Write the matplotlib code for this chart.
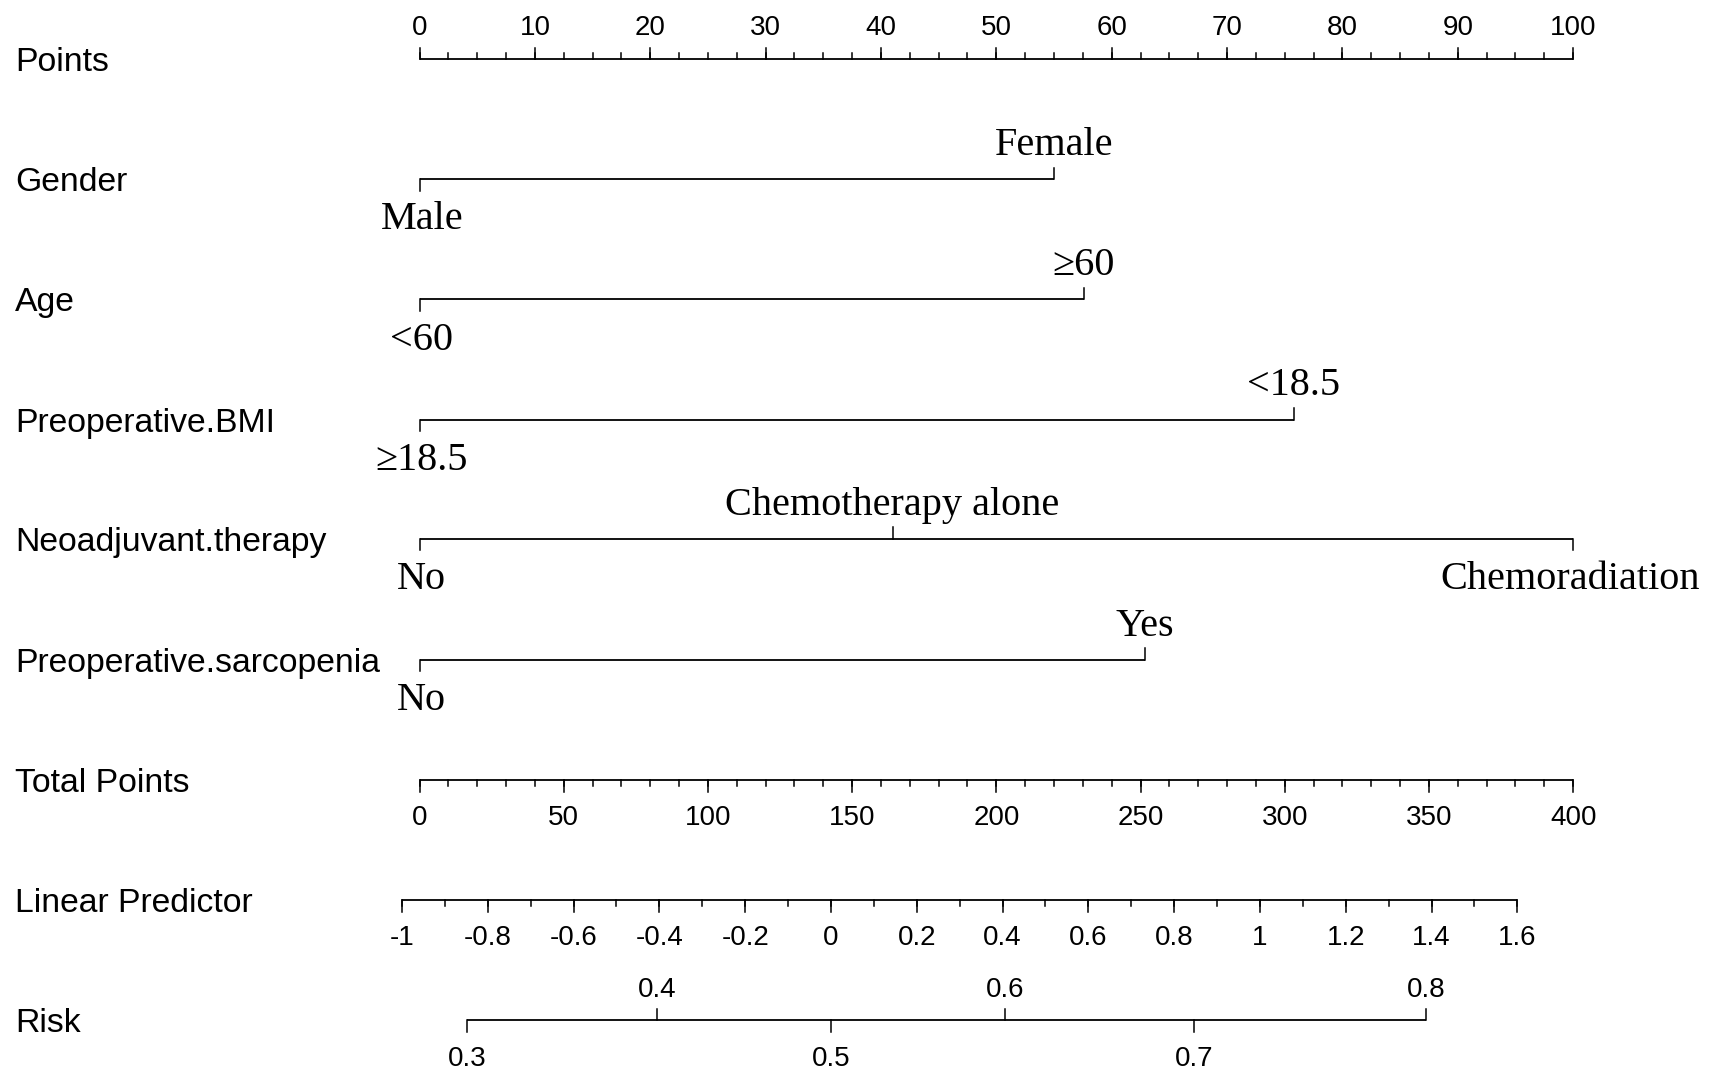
import numpy as np
import matplotlib
matplotlib.use('Agg')
import matplotlib.pyplot as plt

# ---------------- data ----------------
row_labels = ['Points', 'Gender', 'Age', 'Preoperative.BMI', 'Neoadjuvant.therapy',
              'Preoperative.sarcopenia', 'Total Points', 'Linear Predictor', 'Risk']

points_ticks = np.arange(0, 101, 10)
points_minor = np.arange(0, 100.01, 2.5)

gender_levels = ['Male', 'Female']
gender_points = [0.0, 55.0]
age_levels = ['<60', '\u226560']
age_points = [0.0, 57.6]
bmi_levels = ['\u226518.5', '<18.5']
bmi_points = [0.0, 75.8]
neo_levels = ['No', 'Chemotherapy alone', 'Chemoradiation']
neo_points = [0.0, 41.0, 100.0]
sarc_levels = ['No', 'Yes']
sarc_points = [0.0, 62.9]

total_ticks = np.arange(0, 401, 50)
total_minor = np.arange(0, 401, 10)
total_max = 400.0

lp_ticks = [-1, -0.8, -0.6, -0.4, -0.2, 0, 0.2, 0.4, 0.6, 0.8, 1, 1.2, 1.4, 1.6]
lp_minor = np.round(np.arange(-1, 1.601, 0.1), 2)
lp_at_zero_total = -0.959
lp_at_max_total = 1.730

risk_ticks = [0.3, 0.4, 0.5, 0.6, 0.7, 0.8]

# ---------------- layout ----------------
W, H, DPI = 1713, 1082, 100
REF_W, REF_H = 1568.0, 990.4          # layout units (reference display px)
X0_PX, X100_PX = 384.0, 1440.0        # x of 0 and 100 points
rows_y = [54, 164, 274, 384, 493, 604, 714, 824, 934]

ppx = (X100_PX - X0_PX) / 100.0       # layout px per point
xmin = -X0_PX / ppx
xmax = xmin + REF_W / ppx

fig = plt.figure(figsize=(W / DPI, H / DPI), dpi=DPI)
ax = fig.add_axes([0, 0, 1, 1])
ax.set_xlim(xmin, xmax)
ax.set_ylim(REF_H, 0)
ax.axis('off')

LW = 1.3
TLW = 1.1
SANS = ['Liberation Sans', 'DejaVu Sans']
SERIF = ['Liberation Serif', 'DejaVu Serif']
LAB_FS = 24.3
TICK_FS = 20
CAT_FS = 29
MAJ = 10.5
MIN = 5.5


def total_to_pts(t):
    return np.asarray(t, dtype=float) * 100.0 / total_max


def lp_to_pts(lp):
    return (np.asarray(lp, dtype=float) - lp_at_zero_total) / (lp_at_max_total - lp_at_zero_total) * 100.0


def fmt(v):
    s = ('%.1f' % v).rstrip('0').rstrip('.')
    return '0' if s in ('-0', '') else s


# left labels
for lab, y in zip(row_labels, rows_y):
    ax.text(14 / ppx + xmin, y + 11, lab, family=SANS, fontsize=LAB_FS,
            ha='left', va='baseline', color='black')

# Points axis (ticks up)
y = rows_y[0]
ax.plot([points_ticks[0], points_ticks[-1]], [y, y], color='black', lw=LW, solid_capstyle='butt')
for v in points_minor:
    ax.plot([v, v], [y, y - MIN], color='black', lw=TLW)
for v in points_ticks:
    ax.plot([v, v], [y, y - MAJ], color='black', lw=TLW)
    ax.text(v, y - 22, fmt(v), family=SANS, fontsize=TICK_FS, ha='center', va='baseline')

# categorical rows
cats = [(gender_levels, gender_points), (age_levels, age_points), (bmi_levels, bmi_points),
        (neo_levels, neo_points), (sarc_levels, sarc_points)]
for (levels, pts), y in zip(cats, rows_y[1:6]):
    ax.plot([min(pts), max(pts)], [y, y], color='black', lw=LW, solid_capstyle='butt')
    for i, (lev, p) in enumerate(zip(levels, pts)):
        if i % 2 == 0:
            dx = 0.2 if p == 0 else -0.25
            ax.plot([p, p], [y, y + MAJ], color='black', lw=TLW)
            ax.text(p + dx, y + 46, lev, family=SERIF, fontsize=CAT_FS, ha='center', va='baseline')
        else:
            ax.plot([p, p], [y, y - MAJ], color='black', lw=TLW)
            ax.text(p, y - 22, lev, family=SERIF, fontsize=CAT_FS, ha='center', va='baseline')

# Total points (ticks down)
y = rows_y[6]
tp = total_to_pts(total_ticks)
ax.plot([tp[0], tp[-1]], [y, y], color='black', lw=LW, solid_capstyle='butt')
for v in total_to_pts(total_minor):
    ax.plot([v, v], [y, y + MIN], color='black', lw=TLW)
for v, t in zip(tp, total_ticks):
    ax.plot([v, v], [y, y + MAJ], color='black', lw=TLW)
    ax.text(v, y + 41, fmt(t), family=SANS, fontsize=TICK_FS, ha='center', va='baseline')

# Linear predictor (ticks down)
y = rows_y[7]
lpp = lp_to_pts(lp_ticks)
ax.plot([lpp[0], lpp[-1]], [y, y], color='black', lw=LW, solid_capstyle='butt')
for v in lp_to_pts(lp_minor):
    ax.plot([v, v], [y, y + MIN], color='black', lw=TLW)
for v, t in zip(lpp, lp_ticks):
    ax.plot([v, v], [y, y + MAJ], color='black', lw=TLW)
    ax.text(v, y + 41, fmt(t), family=SANS, fontsize=TICK_FS, ha='center', va='baseline')

# Risk (alternating)
y = rows_y[8]
rk = np.array(risk_ticks)
rp = lp_to_pts(np.log(rk / (1 - rk)))
ax.plot([rp[0], rp[-1]], [y, y], color='black', lw=LW, solid_capstyle='butt')
for i, (v, r) in enumerate(zip(rp, risk_ticks)):
    if i % 2 == 0:
        ax.plot([v, v], [y, y + MAJ], color='black', lw=TLW)
        ax.text(v, y + 42, fmt(r), family=SANS, fontsize=TICK_FS, ha='center', va='baseline')
    else:
        ax.plot([v, v], [y, y - MAJ], color='black', lw=TLW)
        ax.text(v, y - 21, fmt(r), family=SANS, fontsize=TICK_FS, ha='center', va='baseline')

fig.savefig('out.png', dpi=DPI, facecolor='white')
